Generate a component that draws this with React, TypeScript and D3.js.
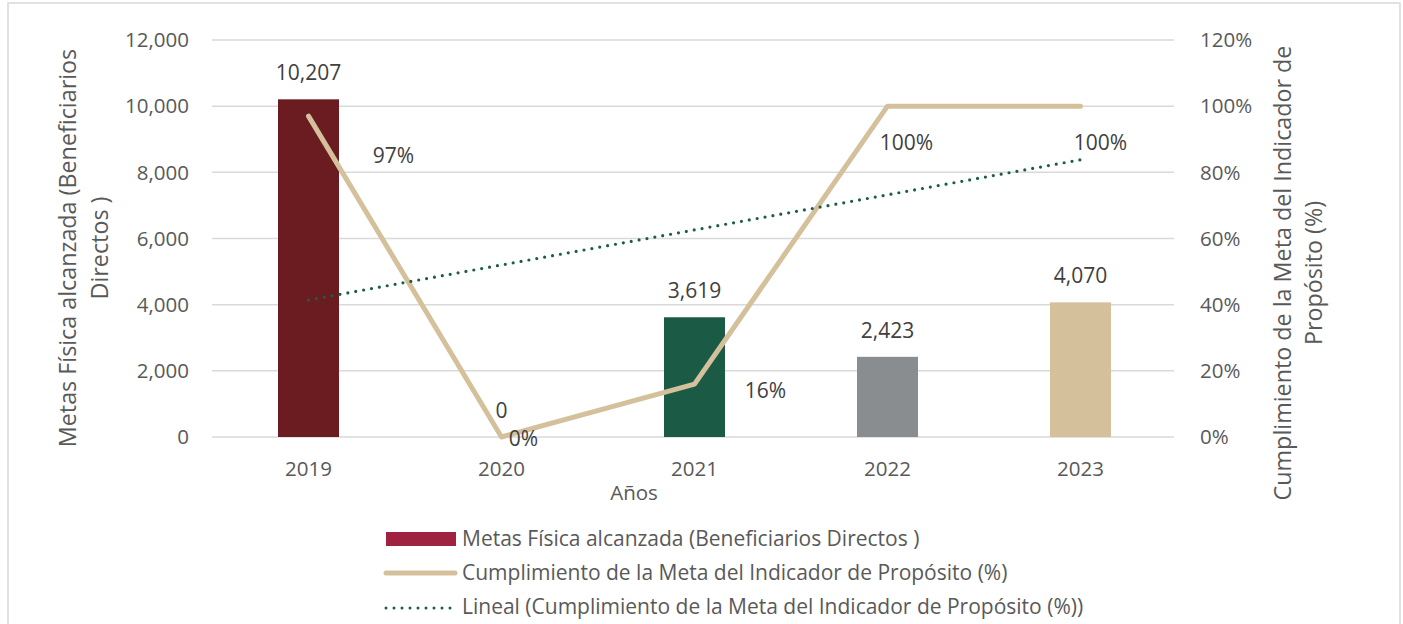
import React from "react";
import * as d3 from "d3";

const years = ["2019", "2020", "2021", "2022", "2023"];
const beneficiarios = [10207, 0, 3619, 2423, 4070];
const cumplimiento = [0.97, 0, 0.16, 1.0, 1.0];
const barColors = ["#6A1C21", "#6A1C21", "#1B5A45", "#8A8D8F", "#D4C19C"];
const leftTicks = [0, 2000, 4000, 6000, 8000, 10000, 12000];
const rightTicks = [0, 0.2, 0.4, 0.6, 0.8, 1.0, 1.2];
// label offsets for percentage labels (layout, px)
const pctLabelOffsets: [number, number][] = [
  [85, 40],
  [22, 2],
  [71, 7],
  [19, 36],
  [20, 36],
];

const W = 1403;
const H = 624;
const FONT = "'Open Sans', sans-serif";
const TXT = "#595959";
const LBL = "#404040";

export default function App() {
  const x = d3.scaleBand<string>().domain(years).range([212, 1177]).paddingInner(0.684).paddingOuter(0.342);
  const yL = d3.scaleLinear().domain([0, 12000]).range([437, 40]);
  const yR = d3.scaleLinear().domain([0, 1.2]).range([437, 40]);
  const cx = (d: string) => (x(d) as number) + x.bandwidth() / 2;
  const fmt = d3.format(",");
  const pct = d3.format(".0%");

  const line = d3
    .line<number>()
    .x((_, i) => cx(years[i]))
    .y((d) => yR(d));

  // linear trendline (least squares) over the percentage series
  const xs = cumplimiento.map((_, i) => i + 1);
  const mx = d3.mean(xs) as number;
  const my = d3.mean(cumplimiento) as number;
  const slope =
    d3.sum(xs.map((xi, i) => (xi - mx) * (cumplimiento[i] - my))) /
    d3.sum(xs.map((xi) => (xi - mx) ** 2));
  const icpt = my - slope * mx;
  const trend = [icpt + slope * 1, icpt + slope * 5];

  return (
    <svg width={W} height={H} style={{ display: "block", position: "absolute", left: 0, top: 0 }}>
      <rect x={0} y={0} width={W} height={H} fill="#fff" />
      <path d={`M8,${H + 2} L8,3 L1400,3 L1400,${H + 2}`} fill="none" stroke="#D9D9D9" strokeWidth={1.5} />

      {leftTicks.map((t) => (
        <line key={t} x1={212} x2={1174} y1={yL(t)} y2={yL(t)} stroke="#D9D9D9" strokeWidth={1.5} />
      ))}

      {leftTicks.map((t) => (
        <text key={"l" + t} x={189} y={yL(t)} dy="0.35em" textAnchor="end" fontFamily={FONT} fontSize={20.5} fill={TXT}>
          {fmt(t)}
        </text>
      ))}
      {rightTicks.map((t) => (
        <text key={"r" + t} x={1200} y={yR(t)} dy="0.35em" textAnchor="start" fontFamily={FONT} fontSize={20.5} fill={TXT}>
          {pct(t)}
        </text>
      ))}

      {years.map((yr, i) => (
        <rect
          key={yr}
          x={x(yr)}
          y={yL(beneficiarios[i])}
          width={x.bandwidth()}
          height={yL(0) - yL(beneficiarios[i])}
          fill={barColors[i]}
        />
      ))}

      <path d={line(cumplimiento) as string} fill="none" stroke="#D4C19C" strokeWidth={5} strokeLinecap="round" strokeLinejoin="round" />

      <line
        x1={cx(years[0])}
        x2={cx(years[4])}
        y1={yR(trend[0])}
        y2={yR(trend[1])}
        stroke="#1B5E46"
        strokeWidth={3.2}
        strokeDasharray="0 8"
        strokeLinecap="round"
      />

      {years.map((yr, i) => (
        <text key={"b" + yr} x={cx(yr)} y={yL(beneficiarios[i]) - 19} textAnchor="middle" fontFamily={FONT} fontSize={21} fill={LBL}>
          {fmt(beneficiarios[i])}
        </text>
      ))}
      {years.map((yr, i) => (
        <text
          key={"p" + yr}
          x={cx(yr) + pctLabelOffsets[i][0]}
          y={yR(cumplimiento[i]) + pctLabelOffsets[i][1]}
          dy="0.35em"
          textAnchor="middle"
          fontFamily={FONT}
          fontSize={21}
          fill={LBL}
        >
          {pct(cumplimiento[i])}
        </text>
      ))}

      {years.map((yr) => (
        <text key={"x" + yr} x={cx(yr)} y={476} textAnchor="middle" fontFamily={FONT} fontSize={20.5} fill={TXT}>
          {yr}
        </text>
      ))}
      <text x={634} y={500} textAnchor="middle" fontFamily={FONT} fontSize={20.5} fill={TXT}>
        Años
      </text>

      <g transform="translate(68,248) rotate(-90)">
        <text x={0} y={0} dy="0.35em" textAnchor="middle" fontFamily={FONT} fontSize={23.3} fill={TXT}>
          Metas Física alcanzada (Beneficiarios
        </text>
        <text x={0} y={32} dy="0.35em" textAnchor="middle" fontFamily={FONT} fontSize={23.3} fill={TXT}>
          Directos )
        </text>
      </g>
      <g transform="translate(1283,273) rotate(-90)">
        <text x={0} y={0} dy="0.35em" textAnchor="middle" fontFamily={FONT} fontSize={23.3} fill={TXT}>
          Cumplimiento de la Meta del Indicador de
        </text>
        <text x={0} y={31} dy="0.35em" textAnchor="middle" fontFamily={FONT} fontSize={23.3} fill={TXT}>
          Propósito (%)
        </text>
      </g>

      <rect x={386} y={532} width={70} height={14} fill="#9F2241" />
      <text x={462} y={539} dy="0.35em" fontFamily={FONT} fontSize={21} fill={TXT}>
        Metas Física alcanzada (Beneficiarios Directos )
      </text>
      <line x1={386} x2={455} y1={573} y2={573} stroke="#D4C19C" strokeWidth={5} strokeLinecap="round" />
      <text x={462} y={573} dy="0.35em" fontFamily={FONT} fontSize={21} fill={TXT}>
        Cumplimiento de la Meta del Indicador de Propósito (%)
      </text>
      <line x1={386} x2={456} y1={608} y2={608} stroke="#1B5E46" strokeWidth={3} strokeDasharray="0 8" strokeLinecap="round" />
      <text x={462} y={607} dy="0.35em" fontFamily={FONT} fontSize={21} fill={TXT}>
        Lineal (Cumplimiento de la Meta del Indicador de Propósito (%))
      </text>
    </svg>
  );
}
